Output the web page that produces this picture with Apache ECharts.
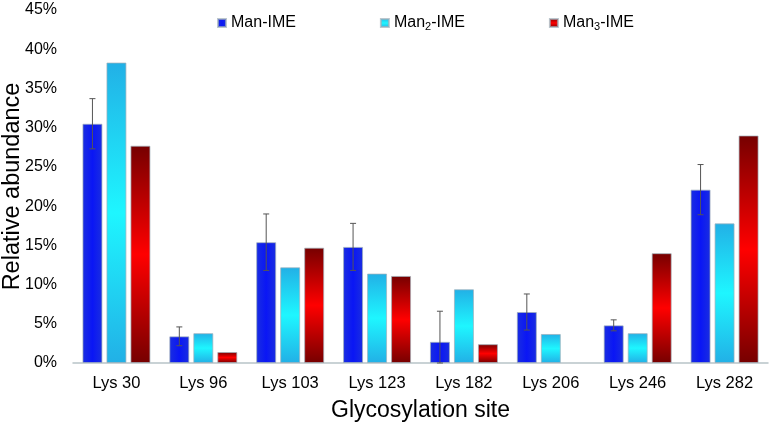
<!DOCTYPE html>
<html><head><meta charset="utf-8">
<script src="https://cdn.jsdelivr.net/npm/echarts@6/dist/echarts.min.js"></script>
<style>html,body{margin:0;padding:0;background:#fff}#c{width:770px;height:428px}</style>
</head><body><div id="c"></div>
<script>
const categories = ['Lys 30','Lys 96','Lys 103','Lys 123','Lys 182','Lys 206','Lys 246','Lys 282'];
const manIME  = [30.5, 3.4, 15.4, 14.8, 2.7, 6.5, 4.8, 22.1];
const manIMEErr = [3.2, 1.2, 3.6, 3.0, 3.9, 2.3, 0.7, 3.2];
const man2IME = [38.3, 3.8, 12.2, 11.4, 9.4, 3.7, 3.8, 17.8];
const man3IME = [27.7, 1.4, 14.7, 11.1, 2.4, 0, 14.0, 29.0];
const yTicks = [0,5,10,15,20,25,30,35,40,45];

const chart = echarts.init(document.getElementById('c'));
const font = 'Liberation Sans, Arial, sans-serif';
const blueGrad = new echarts.graphic.LinearGradient(0,0,1,0,[
  {offset:0,color:'#1a2ee0'},{offset:0.5,color:'#0a16f5'},{offset:1,color:'#1a2ee0'}]);
const cyanGrad = new echarts.graphic.LinearGradient(0,0,0,1,[
  {offset:0,color:'#22b0e6'},{offset:0.5,color:'#1ef6ff'},{offset:1,color:'#22b0e6'}]);
const redGrad = new echarts.graphic.LinearGradient(0,0,0,1,[
  {offset:0,color:'#760000'},{offset:0.5,color:'#ff0000'},{offset:1,color:'#760000'}]);
const barStyle = (c)=>({color:c, borderColor:'rgba(160,175,185,0.7)', borderWidth:1});
const nz = (arr)=>arr.map(v=>v===0?'-':v);

chart.setOption({
  animation:false,
  textStyle:{fontFamily:font},
  grid:{left:73,right:2,top:10,bottom:65,containLabel:false,outerBoundsMode:'none'},
  legend:{
    top:10, left:212, itemGap:84, itemWidth:8, itemHeight:8, icon:'rect',
    textStyle:{fontSize:16,color:'#000',fontFamily:font,
      rich:{s:{fontSize:11,verticalAlign:'bottom',padding:[8,0,0,0],color:'#000'}}},
    formatter:function(n){
      if(n==='Man2-IME') return 'Man{s|2}-IME';
      if(n==='Man3-IME') return 'Man{s|3}-IME';
      return n;
    },
    data:['Man-IME','Man2-IME','Man3-IME']
  },
  xAxis:{
    type:'category', data:categories,
    name:'Glycosylation site', nameLocation:'middle', nameGap:36, nameMoveOverlap:false,
    nameTextStyle:{fontSize:23,color:'#000',fontFamily:font},
    axisLine:{lineStyle:{color:'#b8c4c8',width:1.5}},
    axisTick:{show:false},
    axisLabel:{fontSize:16.5,color:'#000',margin:12}
  },
  yAxis:{
    type:'value', min:0, max:45, interval:5,
    name:'Relative abundance', nameLocation:'middle', nameGap:48, nameMoveOverlap:false,
    nameTextStyle:{fontSize:23.5,color:'#000',fontFamily:font},
    axisLine:{show:false}, axisTick:{show:false}, splitLine:{show:false},
    axisLabel:{fontSize:16,color:'#000',margin:16,formatter:function(v){return yTicks.indexOf(v)>=0?v+'%':'';}}
  },
  series:[
    {name:'Man-IME',type:'bar',data:nz(manIME),barWidth:20,barGap:'20%',itemStyle:barStyle(blueGrad),
     color:'#0a16f5'},
    {name:'Man2-IME',type:'bar',data:nz(man2IME),barWidth:20,barGap:'20%',itemStyle:barStyle(cyanGrad),
     color:'#1ef6ff'},
    {name:'Man3-IME',type:'bar',data:nz(man3IME),barWidth:20,barGap:'20%',itemStyle:barStyle(redGrad),
     color:'#c00000'},
    {name:'err',type:'custom',z:10,
     data:manIME.map((v,i)=>[i,Math.max(0,v-manIMEErr[i]),v+manIMEErr[i]]),
     renderItem:function(params,api){
       const x = api.coord([api.value(0),0])[0]-24;
       const lo = api.coord([api.value(0),api.value(1)])[1];
       const hi = api.coord([api.value(0),api.value(2)])[1];
       const st = {stroke:'#555',lineWidth:1};
       return {type:'group',children:[
         {type:'line',shape:{x1:x,y1:lo,x2:x,y2:hi},style:st},
         {type:'line',shape:{x1:x-3,y1:lo,x2:x+3,y2:lo},style:st},
         {type:'line',shape:{x1:x-3,y1:hi,x2:x+3,y2:hi},style:st}
       ]};
     }}
  ]
});
</script></body></html>
